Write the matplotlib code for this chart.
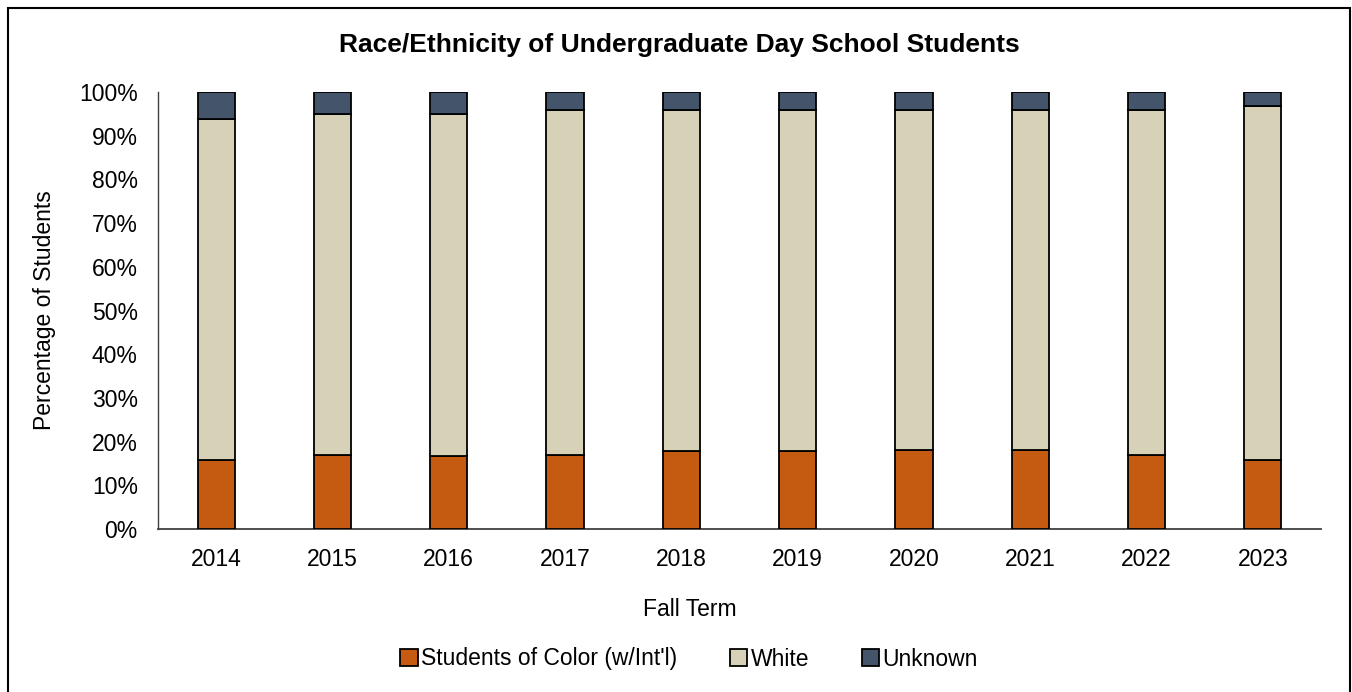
import matplotlib
matplotlib.use("Agg")
import matplotlib.pyplot as plt
from matplotlib.patches import Rectangle
import numpy as np

years = ["2014", "2015", "2016", "2017", "2018", "2019", "2020", "2021", "2022", "2023"]
students_of_color = [15.8, 16.9, 16.7, 16.9, 17.9, 17.9, 18.1, 18.1, 16.9, 15.8]
white = [78.1, 78.0, 78.2, 78.9, 77.9, 77.9, 77.7, 77.7, 78.9, 81.1]
unknown = [6.1, 5.1, 5.1, 4.2, 4.2, 4.2, 4.2, 4.2, 4.2, 3.1]

series_names = ["Students of Color (w/Int'l)", "White", "Unknown"]
colors = ["#C55A11", "#D6D1B7", "#44546A"]

plt.rcParams['font.family'] = ['Liberation Sans', 'DejaVu Sans']

fig = plt.figure(figsize=(13.52, 6.92), dpi=100)
ax = fig.add_axes([158/1352, 1 - 529/692, (1321 - 158)/1352, (529 - 92)/692])

x = np.arange(len(years))
width = 0.32
bottom = np.zeros(len(years))
for vals, name, col in zip([students_of_color, white, unknown], series_names, colors):
    ax.bar(x, vals, width, bottom=bottom, color=col, edgecolor="black",
           linewidth=1.3, label=name, zorder=3)
    bottom += np.array(vals)

fs = 16.5
ax.set_xlim(-0.5, len(years) - 0.5)
ax.set_ylim(0, 100)
ax.set_yticks(np.arange(0, 101, 10))
ax.set_yticklabels([f"{v}%" for v in range(0, 101, 10)], fontsize=fs)
ax.set_xticks(x)
ax.set_xticklabels(years, fontsize=fs)
ax.tick_params(axis='x', length=0, pad=14)
ax.tick_params(axis='y', length=0, pad=14.5)

for s in ["top", "right"]:
    ax.spines[s].set_visible(False)
ax.spines["left"].set_color("#404040")
ax.spines["left"].set_linewidth(1.0)
ax.spines["bottom"].set_color("#404040")
ax.spines["bottom"].set_linewidth(1.3)

fig.text(679/1352, 1 - 45/692, "Race/Ethnicity of Undergraduate Day School Students",
         ha="center", va="center", fontsize=19, fontweight="bold")
fig.text(45/1352, 1 - 310/692, "Percentage of Students", ha="center", va="center",
         rotation=90, fontsize=fs)
fig.text(690/1352, 1 - 609/692, "Fall Term", ha="center", va="center", fontsize=fs)

leg = fig.legend(loc="center", bbox_to_anchor=(689/1352, 1 - 659/692), ncol=3,
                 frameon=False, fontsize=fs, handlelength=0.75, handleheight=0.75,
                 handletextpad=0.15, columnspacing=2.3)

fig.patches.append(Rectangle((8/1352, -0.01), (1350 - 8)/1352, 1 - 8/692 + 0.01,
                             transform=fig.transFigure, fill=False,
                             edgecolor="black", linewidth=1.5))

fig.savefig("out.png", dpi=100)
